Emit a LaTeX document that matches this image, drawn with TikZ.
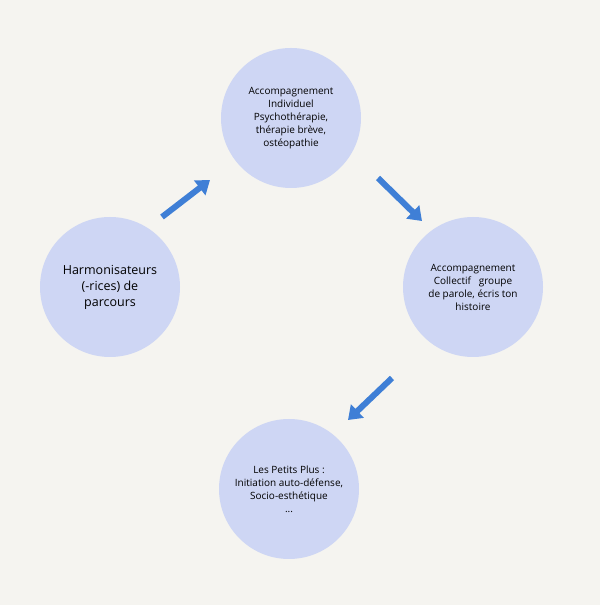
\documentclass[tikz,border=0pt]{standalone}
\usepackage{fontspec}
\setmainfont{Open Sans}
\usetikzlibrary{arrows.meta}
\definecolor{bg}{HTML}{F5F4F0}
\definecolor{cfill}{HTML}{CED6F4}
\definecolor{arr}{HTML}{3F7FD6}
\tikzset{
  bubble/.style={circle,fill=cfill,minimum size=140pt,inner sep=0pt,align=center,font=\fontsize{10}{13}\selectfont,text=black},
  flow/.style={arr,line width=6pt,-{Triangle[length=13pt,width=18pt]}}
}
\begin{document}
\begin{tikzpicture}[x=1pt,y=1pt]
\fill[bg] (0,0) rectangle (600,605);
\useasboundingbox (0,0) rectangle (600,605);
\node[bubble] (top) at (291,487) {Accompagnement\\Individuel\\Psychothérapie,\\thérapie brève,\\ostéopathie};
\node[bubble,font=\fontsize{12.5}{16}\selectfont] (left) at (110,318) {Harmonisateurs\\(-rices) de\\parcours};
\node[bubble] (right) at (473,318) {Accompagnement\\Collectif\ \ \ groupe\\de parole, écris ton\\histoire};
\node[bubble] (bot) at (289,116) {Les Petits Plus :\\Initiation auto-défense,\\Socio-esthétique\\...};
\coordinate (a1s) at (162,388); \coordinate (a1e) at (210,425);
\coordinate (a2s) at (378,427); \coordinate (a2e) at (422,384);
\coordinate (a3s) at (392,227); \coordinate (a3e) at (348,185);
\draw[flow] (a1s) -- (a1e);
\draw[flow] (a2s) -- (a2e);
\draw[flow] (a3s) -- (a3e);
\end{tikzpicture}
\end{document}
